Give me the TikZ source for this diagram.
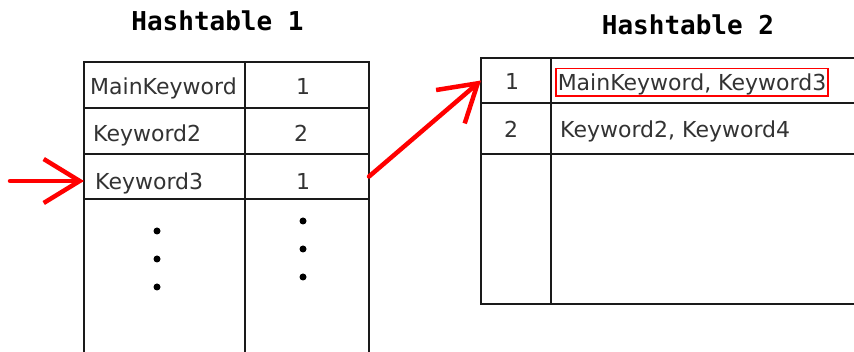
\documentclass[tikz,border=0pt]{standalone}
\usepackage{fontspec}
\setmainfont{DejaVu Sans}
\newfontfamily\titlefont{DejaVu Sans Mono}
\usetikzlibrary{arrows.meta}
\definecolor{txt}{HTML}{333333}
\definecolor{ink}{HTML}{1A1A1A}
\definecolor{pen}{HTML}{FF0000}
\begin{document}
\begin{tikzpicture}[x=1pt,y=-1pt,
 cellbox/.style={draw=ink, line width=2pt, inner sep=0pt, outer sep=0pt},
 celltext/.style={text=txt, font=\fontsize{22}{24}\selectfont, inner sep=0pt},
 titletext/.style={font=\titlefont\bfseries\fontsize{26}{28}\selectfont, text=black, inner sep=0pt},
 dotmark/.style={circle, fill=black, inner sep=0pt, minimum size=7pt},
 penarrow/.style={draw=pen, line width=4.5pt, line cap=round, line join=round, -{Straight Barb[length=36pt,width=44pt]}}
]
\useasboundingbox (0,0) rectangle (854,352);
\fill[white] (0,0) rectangle (854,352);
\begin{scope}
\clip (0,0) rectangle (854,352);
% Hashtable 1
\node[cellbox, minimum width=161pt, minimum height=46pt] (a1) at (164.5,85) {};
\node[cellbox, minimum width=124pt, minimum height=46pt] (b1) at (307,85) {};
\node[cellbox, minimum width=161pt, minimum height=46pt] (a2) at (164.5,131) {};
\node[cellbox, minimum width=124pt, minimum height=46pt] (b2) at (307,131) {};
\node[cellbox, minimum width=161pt, minimum height=45pt] (a3) at (164.5,176.5) {};
\node[cellbox, minimum width=124pt, minimum height=45pt] (b3) at (307,176.5) {};
\node[cellbox, minimum width=161pt, minimum height=180pt] (a4) at (164.5,289) {};
\node[cellbox, minimum width=124pt, minimum height=180pt] (b4) at (307,289) {};
% Hashtable 2
\node[cellbox, minimum width=70pt, minimum height=45pt] (c1) at (516,80.5) {};
\node[cellbox, minimum width=350pt, minimum height=45pt] (d1) at (726,80.5) {};
\node[cellbox, minimum width=70pt, minimum height=51pt] (c2) at (516,128.5) {};
\node[cellbox, minimum width=350pt, minimum height=51pt] (d2) at (726,128.5) {};
\node[cellbox, minimum width=70pt, minimum height=150pt] (c3) at (516,229) {};
\node[cellbox, minimum width=350pt, minimum height=150pt] (d3) at (726,229) {};
\end{scope}
% titles
\node[titletext, anchor=base] (t1) at (217.5,31) {Hashtable 1};
\node[titletext, anchor=base] (t2) at (688,35) {Hashtable 2};
% texts table 1
\node[celltext, anchor=base west] (ka1) at (90,95) {MainKeyword};
\node[celltext, anchor=base] (kb1) at (303,95) {1};
\node[celltext, anchor=base west] (ka2) at (93,142) {Keyword2};
\node[celltext, anchor=base] (kb2) at (301,142) {2};
\node[celltext, anchor=base west] (ka3) at (95,190) {Keyword3};
\node[celltext, anchor=base] (kb3) at (303,190) {1};
% dots
\node[dotmark] (da1) at (157,231) {};
\node[dotmark] (da2) at (157,259) {};
\node[dotmark] (da3) at (157,287) {};
\node[dotmark] (db1) at (303,221) {};
\node[dotmark] (db2) at (303,249) {};
\node[dotmark] (db3) at (303,277) {};
% texts table 2
\node[celltext, anchor=base] (kc1) at (512,90) {1};
\node[celltext, anchor=base west, draw=pen, line width=1.5pt, inner xsep=2pt, inner ysep=1.5pt, text height=21pt, text depth=3.5pt] (kd1) at (555,91) {MainKeyword, Keyword3};
\node[celltext, anchor=base] (kc2) at (511,138) {2};
\node[celltext, anchor=base west] (kd2) at (560,138) {Keyword2, Keyword4};
% arrows
\coordinate (s1) at (10,181);
\draw[penarrow] (s1) -- (s1 -| a3.west);
\draw[penarrow] (b3.east) -- (c1.west);
\end{tikzpicture}
\end{document}
